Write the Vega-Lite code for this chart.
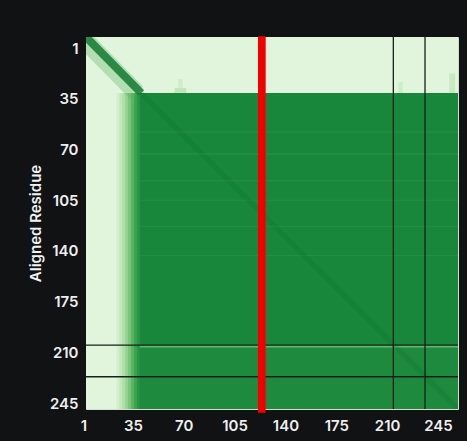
{
  "$schema": "https://vega.github.io/schema/vega-lite/v6.json",
  "width": 372,
  "height": 372,
  "autosize": {"type": "none"},
  "padding": {"left": 86, "top": 37, "right": 9, "bottom": 32},
  "background": "#101214",
  "config": {
    "view": {"stroke": "#d3ddd0", "strokeWidth": 1},
    "font": "Inter",
    "axis": {
      "grid": false, "ticks": false, "domain": false,
      "labelColor": "#eeeeee", "labelFontSize": 15, "labelFontWeight": 600, "labelFont": "Inter",
      "titleColor": "#f2f2f2", "titleFontSize": 15, "titleFontWeight": 600, "titleFont": "Inter",
      "labelFlush": false, "labelOverlap": false
    },
    "axisX": {"labelPadding": 9, "labelOffset": -4},
    "axisY": {"labelPadding": 8, "labelOffset": 10.5, "titlePadding": 6}
  },
  "datasets": {
    "cells": [
      {"x": 0, "x2": 256, "y": 0, "y2": 256, "v": 29},
      {"x": 21, "x2": 256, "y": 38.5, "y2": 256, "v": 27},
      {"x": 23, "x2": 256, "y": 38.5, "y2": 256, "v": 24},
      {"x": 25, "x2": 256, "y": 38.5, "y2": 256, "v": 21},
      {"x": 27, "x2": 256, "y": 38.5, "y2": 256, "v": 18},
      {"x": 29, "x2": 256, "y": 38.5, "y2": 256, "v": 15},
      {"x": 31, "x2": 256, "y": 38.5, "y2": 256, "v": 12},
      {"x": 33, "x2": 256, "y": 38.5, "y2": 256, "v": 9},
      {"x": 35, "x2": 256, "y": 38.5, "y2": 256, "v": 7},
      {"x": 37, "x2": 256, "y": 38.5, "y2": 256, "v": 5},
      {"x": 37, "x2": 256, "y": 213.6, "y2": 256, "v": 5.5},
      {"x": 61, "x2": 69, "y": 35, "y2": 38.5, "v": 24},
      {"x": 63.5, "x2": 66.5, "y": 29, "y2": 35, "v": 26},
      {"x": 215, "x2": 218, "y": 31, "y2": 38.5, "v": 26},
      {"x": 250, "x2": 254, "y": 25, "y2": 38.5, "v": 25},
      {"x": 37, "x2": 256, "y": 65, "y2": 65.8, "v": 6.5},
      {"x": 37, "x2": 256, "y": 80, "y2": 80.8, "v": 6.5},
      {"x": 37, "x2": 256, "y": 98.5, "y2": 99.3, "v": 6.5},
      {"x": 37, "x2": 256, "y": 112, "y2": 112.7, "v": 6},
      {"x": 37, "x2": 256, "y": 130, "y2": 130.7, "v": 6},
      {"x": 37, "x2": 256, "y": 150, "y2": 150.7, "v": 6},
      {"x": 37, "x2": 256, "y": 212.2, "y2": 213.6, "v": 13}
    ],
    "diagHalo": [{"x": 0, "y": 3}, {"x": 35, "y": 38.5}],
    "diagTL": [{"x": 0, "y": 0}, {"x": 38, "y": 38.5}],
    "diagMain": [{"x": 38, "y": 38.5}, {"x": 256, "y": 256}],
    "hlines": [{"y": 212}, {"y": 233.8}],
    "vlines": [{"x": 211.5}, {"x": 233.3}],
    "red": [{"x": 121, "y": -0.5, "y2": 258.5}]
  },
  "layer": [
    {
      "data": {"name": "cells"},
      "mark": {"type": "rect"},
      "encoding": {
        "x": {"field": "x", "type": "quantitative", "title": null,
              "scale": {"domain": [0, 256], "nice": false, "zero": false},
              "axis": {"values": [1, 35, 70, 105, 140, 175, 210, 245]}},
        "x2": {"field": "x2"},
        "y": {"field": "y", "type": "quantitative", "title": "Aligned Residue",
              "scale": {"domain": [0, 256], "nice": false, "zero": false, "reverse": true},
              "axis": {"values": [1, 35, 70, 105, 140, 175, 210, 245]}},
        "y2": {"field": "y2"},
        "color": {"field": "v", "type": "quantitative",
                  "scale": {"domain": [2, 5, 10, 20, 29], "range": ["#0b6627", "#18873b", "#45aa55", "#a6dca0", "#e0f5dc"]},
                  "legend": null}
      }
    },
    {
      "data": {"name": "diagHalo"},
      "mark": {"type": "line", "clip": true, "strokeWidth": 18, "color": "#5fb565", "opacity": 0.35, "strokeCap": "butt"},
      "encoding": {
        "x": {"field": "x", "type": "quantitative", "title": null},
        "y": {"field": "y", "type": "quantitative", "title": "Aligned Residue"}
      }
    },
    {
      "data": {"name": "diagTL"},
      "mark": {"type": "line", "clip": true, "strokeWidth": 8, "color": "#1b7f38", "opacity": 0.9, "strokeCap": "butt"},
      "encoding": {
        "x": {"field": "x", "type": "quantitative", "title": null},
        "y": {"field": "y", "type": "quantitative", "title": "Aligned Residue"}
      }
    },
    {
      "data": {"name": "diagMain"},
      "mark": {"type": "line", "clip": true, "strokeWidth": 5, "color": "#0e6e2d", "opacity": 0.22},
      "encoding": {
        "x": {"field": "x", "type": "quantitative", "title": null},
        "y": {"field": "y", "type": "quantitative", "title": "Aligned Residue"}
      }
    },
    {
      "data": {"name": "hlines"},
      "mark": {"type": "rule", "color": "#17201a", "strokeWidth": 1.3},
      "encoding": {
        "y": {"field": "y", "type": "quantitative", "title": "Aligned Residue"}
      }
    },
    {
      "data": {"name": "vlines"},
      "mark": {"type": "rule", "color": "#17201a", "strokeWidth": 1.3},
      "encoding": {
        "x": {"field": "x", "type": "quantitative", "title": null}
      }
    },
    {
      "data": {"name": "red"},
      "mark": {"type": "rule", "color": "#f00000", "strokeWidth": 7.7},
      "encoding": {
        "x": {"field": "x", "type": "quantitative", "title": null},
        "y": {"field": "y", "type": "quantitative", "title": "Aligned Residue"},
        "y2": {"field": "y2"}
      }
    }
  ]
}
